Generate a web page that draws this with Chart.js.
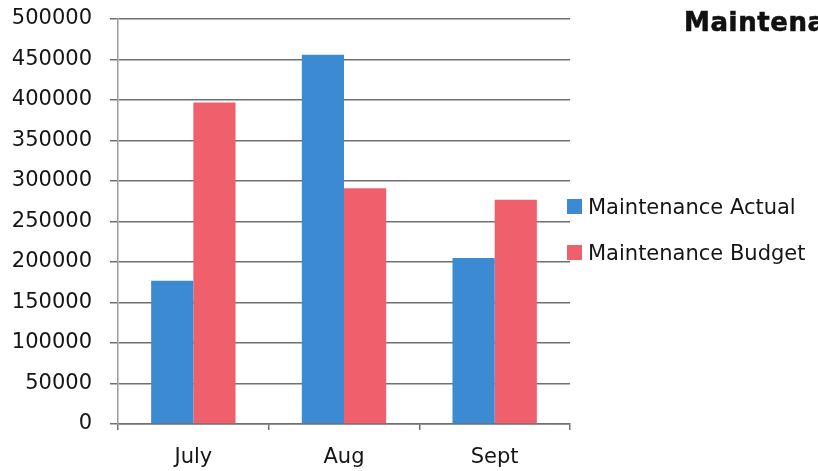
<!DOCTYPE html>
<html>
<head>
<meta charset="utf-8">
<title>Maintenance</title>
<script src="https://cdn.jsdelivr.net/npm/chart.js@4.4.1/dist/chart.umd.min.js"></script>
<style>
    html, body { margin: 0; padding: 0; background: #fff; overflow: hidden; }
    #wrap { position: relative; width: 818px; height: 471px; }
    #chart-title {
        position: absolute; left: 684px; top: 9px;
        font: bold 26px "DejaVu Sans", sans-serif; line-height: 26px;
        letter-spacing: 0.6px; -webkit-text-stroke: 0.6px #111;
        color: #111; white-space: nowrap;
    }
    #chart-legend {
        position: absolute; left: 567px; top: 194px;
        font: 21px "DejaVu Sans", sans-serif; color: #151515;
    }
    #chart-legend .item { display: flex; align-items: center; height: 25px; margin-bottom: 21px; white-space: nowrap; }
    #chart-legend .box { width: 15px; height: 15px; margin-right: 6px; }
</style>
</head>
<body>
<div id="wrap">
    <canvas id="maint-chart" width="818" height="471"></canvas>
    <div id="chart-title">Maintenance</div>
    <div id="chart-legend"></div>
</div>
<script>
// --- Data ---
const months = ['July', 'Aug', 'Sept'];
const maintActual = [177000, 456000, 205000];
const maintBudget = [397000, 291000, 277000];
const yTicks = [0, 50000, 100000, 150000, 200000, 250000, 300000, 350000, 400000, 450000, 500000];

const FONT = '"DejaVu Sans", sans-serif';
const GRID = '#707070';

// simple html legend built from the datasets
function buildLegend(chart, id) {
    const el = document.getElementById(id);
    el.innerHTML = '';
    chart.data.datasets.forEach(ds => {
        const row = document.createElement('div');
        row.className = 'item';
        const box = document.createElement('span');
        box.className = 'box';
        box.style.background = ds.backgroundColor;
        const txt = document.createElement('span');
        txt.textContent = ds.label;
        row.appendChild(box);
        row.appendChild(txt);
        el.appendChild(row);
    });
}

const chart = new Chart(document.getElementById('maint-chart'), {
    type: 'bar',
    data: {
        labels: months,
        datasets: [
            { label: 'Maintenance Actual', data: maintActual, backgroundColor: '#3b8ad2' },
            { label: 'Maintenance Budget', data: maintBudget, backgroundColor: '#f0606c' }
        ]
    },
    options: {
        responsive: false,
        animation: false,
        categoryPercentage: 0.56,
        barPercentage: 1,
        layout: { padding: { left: 12, right: 248, top: 19, bottom: 0 } },
        plugins: {
            legend: { display: false },
            tooltip: { enabled: false }
        },
        scales: {
            x: {
                afterFit: axis => { axis.height = 47; },
                grid: { drawOnChartArea: false, offset: true, tickLength: 6, color: GRID, lineWidth: 1.5 },
                border: { color: GRID, width: 1.5 },
                ticks: { color: '#151515', padding: 15, font: { family: FONT, size: 21 } }
            },
            y: {
                min: 0,
                max: 500000,
                afterBuildTicks: axis => { axis.ticks = yTicks.map(v => ({ value: v })); },
                // fixed axis box; labels may overhang the plot edges
                afterFit: axis => { axis.width = 106; axis.paddingTop = 0; axis.paddingBottom = 0; },
                grid: { color: GRID, lineWidth: 1.5, tickLength: 8 },
                border: { color: '#9a9a9a', width: 1.5 },
                ticks: {
                    color: '#151515', padding: 18, font: { family: FONT, size: 21 },
                    callback: v => String(v)
                }
            }
        }
    }
});

buildLegend(chart, 'chart-legend');
</script>
</body>
</html>
